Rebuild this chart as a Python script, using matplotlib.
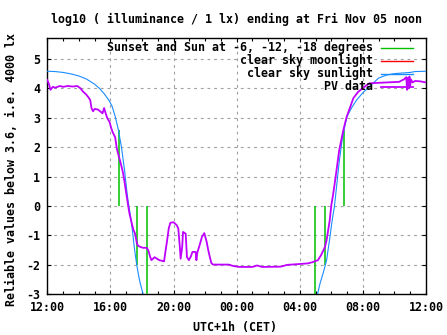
import matplotlib
matplotlib.use("Agg")
import matplotlib.pyplot as plt
from matplotlib.lines import Line2D

# ---------------- data (hours after Thu 12:00 CET) ----------------
sun_h = [0.0, 0.5, 1.0, 1.5, 2.0, 2.5, 3.0, 3.3, 3.6, 3.9, 4.1, 4.3, 4.5, 4.7,
         4.9, 5.0, 5.1, 5.2, 5.3, 5.4, 5.5, 5.6, 5.7, 5.8, 5.9, 6.0, 6.1]
sun_v = [4.58, 4.57, 4.54, 4.49, 4.42, 4.31, 4.14, 4.0, 3.82, 3.6, 3.4, 3.05, 2.6, 2.0,
         1.2, 0.7, 0.25, -0.1, -0.45, -0.85, -1.35, -1.75, -2.1, -2.4, -2.65, -2.85, -3.05]
sun2_h = [17.1, 17.3, 17.5, 17.7, 17.9, 18.05, 18.2, 18.3, 18.5, 18.7, 18.85, 19.0,
          19.3, 19.6, 20.0, 20.5, 21.0, 21.5, 22.0, 22.5, 23.0, 23.3, 24.0]
sun2_v = [-3.05, -2.6, -2.25, -1.84, -1.1, -0.5, 0.0, 0.5, 1.5, 2.3, 2.7, 3.05,
          3.35, 3.6, 3.85, 4.1, 4.35, 4.45, 4.5, 4.52, 4.54, 4.57, 4.58]

pv_h = [0.0, 0.1, 0.2, 0.35, 0.5, 0.8, 1.0, 1.3, 1.6, 1.9, 2.1, 2.28, 2.45, 2.6, 2.72,
        2.8, 2.9, 3.0, 3.2, 3.35, 3.5, 3.6, 3.7, 3.8, 3.95, 4.05, 4.15, 4.3, 4.4, 4.5,
        4.6, 4.7, 4.8, 4.9, 5.0, 5.1, 5.2, 5.35, 5.45, 5.55, 5.62, 5.68, 5.75, 5.9,
        6.06, 6.3, 6.4, 6.52, 6.6, 6.8, 7.1, 7.4, 7.5, 7.58, 7.7, 7.8, 8.0, 8.1, 8.2,
        8.3, 8.4, 8.45, 8.55, 8.6, 8.77, 8.85, 8.97, 9.1, 9.2, 9.4, 9.45, 9.5, 9.68,
        9.8, 9.95, 10.1, 10.2, 10.3, 10.4, 10.5, 11.5, 11.8, 12.2, 13.0, 13.3, 13.6,
        14.8, 15.2, 16.0, 16.5, 16.8, 17.15, 17.35, 17.6, 17.7, 17.8, 17.9, 18.0,
        18.1, 18.2, 18.3, 18.5, 18.76, 18.97, 19.2, 19.4, 19.7, 20.1, 20.4, 21.1,
        22.3, 22.5, 22.6, 22.75, 22.8, 22.85, 22.9, 22.95, 23.0, 23.05, 23.15, 23.3,
        23.6, 24.0]
pv_v = [4.28, 4.15, 3.95, 4.05, 4.02, 4.08, 4.05, 4.08, 4.06, 4.08, 4.0, 3.88, 3.8, 3.7, 3.6,
        3.33, 3.22, 3.3, 3.28, 3.22, 3.15, 3.33, 3.15, 2.99, 2.85, 2.65, 2.5, 2.34, 1.97, 1.75,
        1.56, 1.35, 1.12, 0.8, 0.44, 0.1, -0.24, -0.58, -0.8, -0.92, -1.1, -1.27, -1.35, -1.39,
        -1.42, -1.42, -1.5, -1.73, -1.84, -1.74, -1.84, -1.88, -1.5, -1.22, -0.75, -0.57, -0.55, -0.6, -0.65,
        -0.76, -1.39, -1.79, -1.39, -0.88, -0.94, -1.73, -1.84, -1.71, -1.56, -1.56, -1.84, -1.6, -1.28,
        -1.05, -0.92, -1.22, -1.5, -1.73, -1.94, -1.99, -1.99, -2.04, -2.07, -2.07, -2.02, -2.07,
        -2.06, -2.0, -1.97, -1.95, -1.91, -1.84, -1.67, -1.39, -1.16, -0.82, -0.48, 0.03,
        0.35, 0.71, 1.1, 1.9, 2.58, 3.03, 3.37, 3.67, 3.88, 4.05, 4.17, 4.19,
        4.22, 4.28, 4.3, 4.38, 3.95, 4.35, 4.0, 4.4, 4.1, 4.3, 4.2, 4.25,
        4.24, 4.2]

# sunset / twilight markers
mark_h = [4.52, 5.68, 6.29, 16.99, 17.62, 18.83]
mark_lo = [0.0, -2.0, -3.5, -3.5, -2.0, 0.0]
mark_hi = [2.6, 0.0, 0.0, 0.0, 0.0, 2.6]

moon_h = []
moon_v = []

xtick_pos = [0, 4, 8, 12, 16, 20, 24]
xtick_lab = ["12:00", "16:00", "20:00", "00:00", "04:00", "08:00", "12:00"]
ytick_pos = [-3, -2, -1, 0, 1, 2, 3, 4, 5]

labels = ["Sunset and Sun at -6, -12, -18 degrees", "clear sky moonlight",
          "clear sky sunlight", "PV data"]

# ---------------- style ----------------
GREEN = "#00c000"
RED = "#ff0000"
BLUE = "#1a8cff"
PURPLE = "#c000ff"
FONT = dict(family="DejaVu Sans Mono", weight="bold", size=8.4)

W, H = 447, 335
fig = plt.figure(figsize=(W / 100, H / 100), dpi=100)

def fx(px):
    return px / W

def fy(py):
    return 1 - py / H

axL, axR, axT, axB = 47.3, 426.0, 38.3, 294.3
ax = fig.add_axes([fx(axL), fy(axB), fx(axR) - fx(axL), fy(axT) - fy(axB)])

ax.set_xlim(0, 24)
ax.set_ylim(-3, 5.7)

ax.vlines(mark_h, mark_lo, mark_hi, colors=GREEN, lw=1.1, zorder=3)
ax.plot(moon_h, moon_v, color=RED, lw=1.0)
ax.plot(sun_h, sun_v, color=BLUE, lw=0.8, zorder=4)
ax.plot(sun2_h, sun2_v, color=BLUE, lw=0.8, zorder=4)
ax.plot(pv_h, pv_v, color=PURPLE, lw=1.3, zorder=5)

ax.set_xticks(xtick_pos)
ax.set_xticklabels(xtick_lab)
ax.set_xticks(range(0, 25), minor=True)
ax.set_yticks(ytick_pos)
ax.set_yticklabels([str(v) for v in ytick_pos])

for lab in ax.get_xticklabels() + ax.get_yticklabels():
    lab.set_fontproperties(matplotlib.font_manager.FontProperties(**FONT))

ax.tick_params(which="both", direction="in", top=True, right=True, color="black")
ax.tick_params(which="major", length=3, width=0.8)
ax.tick_params(which="minor", length=2, width=0.8)
ax.tick_params(axis="x", pad=5)
ax.tick_params(axis="y", pad=5)

ax.grid(True, which="major", color="#a0a0a0", lw=0.8, linestyle=(0, (2.5, 3.5)))
ax.set_axisbelow(True)
for s in ax.spines.values():
    s.set_linewidth(1.0)
    s.set_color("black")

# texts
fig.text(fx(236.5), fy(19), "log10 ( illuminance / 1 lx) ending at Fri Nov 05 noon",
         ha="center", va="center", **FONT)
fig.text(fx(235), fy(327), "UTC+1h (CET)", ha="center", va="center", **FONT)
fig.text(fx(12), fy(170), "Reliable values below 3.6, i.e. 4000 lx", rotation=90,
         ha="center", va="center", **FONT)

# key (gnuplot style: right-justified text, sample to the right)
colors = [GREEN, RED, BLUE, PURPLE]
for i, (lab, c) in enumerate(zip(labels, colors)):
    yy = 47.7 + 13.1 * i
    fig.text(fx(373), fy(yy), lab, ha="right", va="center", **FONT)
    fig.add_artist(Line2D([fx(381), fx(413)], [fy(yy), fy(yy)], color=c,
                          lw=1.3 if c == PURPLE else 1.0, transform=fig.transFigure))

fig.savefig("out.png", dpi=100)
